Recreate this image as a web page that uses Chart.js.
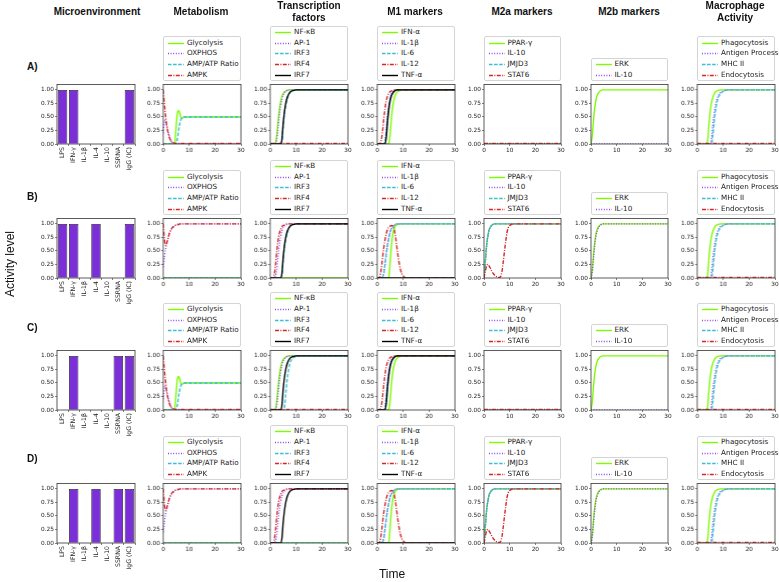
<!DOCTYPE html>
<html>
<head>
<meta charset="utf-8">
<script src="https://cdn.jsdelivr.net/npm/chart.js@4.4.1/dist/chart.umd.min.js"></script>
<style>
  body { margin: 0; width: 779px; height: 582px; background: #fff; position: relative; overflow: hidden; font-family: "DejaVu Sans", sans-serif; }
  canvas { position: absolute; }
  .title { position: absolute; font: bold 10px "Liberation Sans", Arial, sans-serif; text-align: center; line-height: 12px; color: #111; transform: translateX(-50%); white-space: nowrap; }
  .row { position: absolute; font: bold 10px "Liberation Sans", Arial, sans-serif; color: #111; }
  .axis { position: absolute; font: 12px "Liberation Sans", Arial, sans-serif; color: #111; white-space: nowrap; }
  .lg { position: absolute; background: #fff; border: 0.8px solid #d4d4d4; border-radius: 2px; box-sizing: border-box; padding-top: 0.3px; }
  .lg div { height: 10.7px; line-height: 10.7px; font-size: 7.2px; white-space: nowrap; position: relative; padding-left: 23px; color: #222; }
  .lg svg { position: absolute; left: 4px; top: 4px; }
</style>
</head>
<body>
<script>
// time axis (minutes) sampled along the curves
const T = [0, 0.5, 1, 1.5, 2, 2.5, 3, 3.5, 4, 4.5, 5, 5.5, 6, 6.5, 7, 7.5, 8, 9, 10, 12, 15, 20, 25, 30];

const stimuli = ['LPS', 'IFN-γ', 'IL-1β', 'IL-4', 'IL-10', 'SSRNA', 'IgG (IC)'];
const stimA = [1, 1, 0, 0, 0, 0, 1];
const stimB = [1, 1, 0, 1, 0, 0, 1];
const stimC = [0, 1, 0, 0, 0, 1, 1];
const stimD = [0, 1, 0, 1, 0, 1, 1];

const metabolismNames = ['Glycolysis', 'OXPHOS', 'AMP/ATP Ratio', 'AMPK'];
const tfNames = ['NF-κB', 'AP-1', 'IRF3', 'IRF4', 'IRF7'];
const m1Names = ['IFN-α', 'IL-1β', 'IL-6', 'IL-12', 'TNF-α'];
const m2aNames = ['PPAR-γ', 'IL-10', 'JMJD3', 'STAT6'];
const m2bNames = ['ERK', 'IL-10'];
const macNames = ['Phagocytosis', 'Antigen Processing', 'MHC II', 'Endocytosis'];

const flat0 = [0, 0, 0, 0, 0, 0, 0, 0, 0, 0, 0, 0, 0, 0, 0, 0, 0, 0, 0, 0, 0, 0, 0, 0];
const flatLow = [0.01, 0.01, 0.01, 0.01, 0.01, 0.01, 0.01, 0.01, 0.01, 0.01, 0.01, 0.01, 0.01, 0.01, 0.01, 0.01, 0.01, 0.01, 0.01, 0.01, 0.01, 0.01, 0.01, 0.01];

// metabolism
const glycolysisA = [0, 0, 0, 0, 0, 0, 0, 0, 0, 0.04, 0.33, 0.58, 0.62, 0.55, 0.47, 0.48, 0.5, 0.5, 0.5, 0.5, 0.5, 0.5, 0.5, 0.5];
const oxphosA = [0.2, 0.44, 0.4, 0.31, 0.21, 0.13, 0.07, 0.03, 0.01, 0, 0, 0, 0, 0, 0, 0, 0, 0, 0, 0, 0, 0, 0, 0];
const ampAtpA = [0, 0, 0, 0, 0, 0, 0, 0, 0, 0, 0.02, 0.1, 0.27, 0.4, 0.47, 0.49, 0.5, 0.5, 0.5, 0.5, 0.5, 0.5, 0.5, 0.5];
const ampkA = [1, 0.72, 0.48, 0.3, 0.18, 0.1, 0.05, 0.03, 0.02, 0.01, 0.01, 0.01, 0.01, 0.01, 0.01, 0.01, 0.01, 0.01, 0.01, 0.01, 0.01, 0.01, 0.01, 0.01];
const oxphosB = [0.2, 0.4, 0.55, 0.67, 0.76, 0.84, 0.89, 0.93, 0.95, 0.97, 0.98, 0.99, 0.99, 1, 1, 1, 1, 1, 1, 1, 1, 1, 1, 1];
const ampkB = [1, 0.7, 0.6, 0.67, 0.76, 0.84, 0.89, 0.93, 0.95, 0.97, 0.98, 0.99, 0.99, 1, 1, 1, 1, 1, 1, 1, 1, 1, 1, 1];

// transcription factors
const nfkbA = [0, 0, 0, 0, 0.02, 0.15, 0.4, 0.62, 0.78, 0.88, 0.93, 0.96, 0.98, 0.99, 1, 1, 1, 1, 1, 1, 1, 1, 1, 1];
const ap1A = [0, 0, 0, 0, 0.01, 0.08, 0.28, 0.52, 0.7, 0.83, 0.91, 0.95, 0.97, 0.99, 1, 1, 1, 1, 1, 1, 1, 1, 1, 1];
const irf3A = [0, 0, 0, 0, 0, 0, 0, 0, 0, 0.05, 0.32, 0.56, 0.72, 0.83, 0.9, 0.94, 0.97, 0.99, 1, 1, 1, 1, 1, 1];
const irf7A = [0, 0, 0, 0, 0, 0, 0, 0, 0, 0.08, 0.38, 0.6, 0.75, 0.85, 0.91, 0.95, 0.97, 0.99, 1, 1, 1, 1, 1, 1];
const irf3C = [0, 0, 0, 0, 0, 0, 0, 0, 0, 0, 0, 0.05, 0.3, 0.55, 0.72, 0.84, 0.91, 0.97, 0.99, 1, 1, 1, 1, 1];
const ap1B = [0, 0, 0, 0, 0.03, 0.15, 0.38, 0.6, 0.76, 0.87, 0.93, 0.96, 0.98, 0.99, 1, 1, 1, 1, 1, 1, 1, 1, 1, 1];
const irf4B = [0, 0, 0, 0.05, 0.22, 0.48, 0.68, 0.82, 0.9, 0.95, 0.97, 0.98, 0.99, 1, 1, 1, 1, 1, 1, 1, 1, 1, 1, 1];

// M1 markers
const ifnaA = [0, 0, 0, 0, 0, 0, 0, 0, 0, 0.01, 0.18, 0.48, 0.7, 0.83, 0.91, 0.95, 0.97, 0.99, 1, 1, 1, 1, 1, 1];
const il1bA = [0, 0, 0, 0, 0, 0, 0.05, 0.28, 0.55, 0.74, 0.86, 0.93, 0.96, 0.98, 0.99, 1, 1, 1, 1, 1, 1, 1, 1, 1];
const il6A = [0, 0, 0, 0, 0, 0, 0.03, 0.22, 0.5, 0.7, 0.84, 0.91, 0.95, 0.98, 0.99, 1, 1, 1, 1, 1, 1, 1, 1, 1];
const il12A = [0, 0, 0.01, 0.06, 0.22, 0.45, 0.65, 0.8, 0.89, 0.94, 0.97, 0.98, 0.99, 1, 1, 1, 1, 1, 1, 1, 1, 1, 1, 1];
const tnfA = [0, 0, 0, 0, 0, 0, 0, 0.12, 0.42, 0.65, 0.8, 0.89, 0.94, 0.97, 0.99, 1, 1, 1, 1, 1, 1, 1, 1, 1];
const ifnaB = [0, 0, 0, 0, 0, 0, 0, 0, 0, 0.02, 0.3, 0.6, 0.8, 0.9, 0.96, 0.98, 0.99, 1, 1, 1, 1, 1, 1, 1];
const il6B = [0, 0, 0, 0, 0.01, 0.08, 0.25, 0.45, 0.62, 0.75, 0.85, 0.91, 0.95, 0.97, 0.99, 1, 1, 1, 1, 1, 1, 1, 1, 1];
const il12B = [0, 0, 0.02, 0.15, 0.35, 0.55, 0.7, 0.82, 0.9, 0.94, 0.96, 0.97, 0.96, 0.9, 0.78, 0.6, 0.42, 0.15, 0.04, 0, 0, 0, 0, 0];

// M2a markers
const ppargB = [0, 0.3, 0.6, 0.78, 0.89, 0.94, 0.97, 0.99, 1, 1, 1, 1, 1, 1, 1, 1, 1, 1, 1, 1, 1, 1, 1, 1];
const il10aB = [0, 0.28, 0.58, 0.77, 0.88, 0.94, 0.97, 0.99, 1, 1, 1, 1, 1, 1, 1, 1, 1, 1, 1, 1, 1, 1, 1, 1];
const stat6B = [0, 0.12, 0.22, 0.25, 0.22, 0.18, 0.13, 0.09, 0.06, 0.04, 0.02, 0.01, 0.01, 0.03, 0.12, 0.3, 0.5, 0.85, 0.97, 1, 1, 1, 1, 1];

// M2b markers
const erkA = [0, 0.15, 0.45, 0.68, 0.83, 0.91, 0.95, 0.98, 0.99, 1, 1, 1, 1, 1, 1, 1, 1, 1, 1, 1, 1, 1, 1, 1];
const il10bB = [0, 0.1, 0.37, 0.62, 0.79, 0.88, 0.94, 0.97, 0.99, 1, 1, 1, 1, 1, 1, 1, 1, 1, 1, 1, 1, 1, 1, 1];

// macrophage activity
const phagoA = [0, 0, 0, 0, 0, 0, 0, 0, 0.05, 0.35, 0.6, 0.76, 0.86, 0.92, 0.96, 0.98, 0.99, 1, 1, 1, 1, 1, 1, 1];
const antigenA = [0, 0, 0, 0, 0, 0, 0, 0, 0, 0, 0, 0.1, 0.35, 0.55, 0.7, 0.81, 0.88, 0.95, 0.98, 1, 1, 1, 1, 1];
const mhcA = [0, 0, 0, 0, 0, 0, 0, 0, 0, 0, 0, 0, 0.15, 0.4, 0.6, 0.74, 0.84, 0.93, 0.97, 1, 1, 1, 1, 1];

const yTicks = [0, 0.25, 0.5, 0.75, 1];

// ---- layout ----
const COLORS = ['#7cfc00', '#9448f0', '#38bfd8', '#d62728', '#000000'];
const DASH = [[], [1, 1.6], [3.5, 1.6], [4, 1.4, 1, 1.4], []];
const BAR_COLOR = '#7b2fd6';
const colLeft = [57, 163, 270, 377, 483.5, 590.5, 697];
const rowTop = [83.5, 217.5, 350, 483];
const PW = 77.5, PH = 60, AX_W = 24, PAD_T = 4, PAD_R = 6;

const tickFont = { size: 5.8, family: 'DejaVu Sans' };
const gridOpts = { display: true, drawOnChartArea: false, drawTicks: true, tickLength: 2, color: '#333', lineWidth: 0.6 };

const frame = {
  id: 'frame',
  afterDatasetsDraw(chart) {
    const a = chart.chartArea, c = chart.ctx;
    c.save();
    c.strokeStyle = '#333';
    c.lineWidth = 0.8;
    c.strokeRect(a.left, a.top, a.right - a.left, a.bottom - a.top);
    c.restore();
  }
};

function yScale() {
  return {
    min: 0, max: 1.1,
    afterBuildTicks: s => { s.ticks = yTicks.map(v => ({ value: v })); },
    afterFit: s => { s.width = AX_W; },
    ticks: { font: tickFont, color: '#222', padding: 1, callback: v => v.toFixed(2) },
    grid: gridOpts, border: { display: false }
  };
}

function addCanvas(left, top, w, h) {
  const cv = document.createElement('canvas');
  cv.width = w; cv.height = h;
  cv.style.left = left + 'px'; cv.style.top = top + 'px';
  cv.style.width = w + 'px'; cv.style.height = h + 'px';
  document.body.appendChild(cv);
  return cv;
}

function barChart(row, values) {
  const xh = 40;
  const cv = addCanvas(colLeft[0] - AX_W, rowTop[row] - PAD_T, AX_W + 78 + PAD_R, PAD_T + PH + xh);
  new Chart(cv, {
    type: 'bar',
    data: { labels: stimuli, datasets: [{ data: values, backgroundColor: BAR_COLOR, borderColor: '#222', borderWidth: 0.8, barPercentage: 0.85, categoryPercentage: 1 }] },
    options: {
      responsive: false, animation: false, devicePixelRatio: 1,
      layout: { padding: { left: 0, top: PAD_T, right: PAD_R, bottom: 0 } },
      plugins: { legend: { display: false }, tooltip: { enabled: false } },
      scales: {
        x: {
          afterFit: s => { s.height = xh; },
          ticks: { font: { size: 6.2, family: 'DejaVu Sans' }, color: '#222', padding: 1, minRotation: 90, maxRotation: 90, autoSkip: false },
          grid: gridOpts, border: { display: false }
        },
        y: yScale()
      }
    },
    plugins: [frame]
  });
}

function legendBox(left, top, names) {
  const h = names.length * 10.7 + 1.6;
  const d = document.createElement('div');
  d.className = 'lg';
  d.style.left = left + 'px';
  d.style.top = (top - 2.8 - h) + 'px';
  d.style.width = PW + 'px';
  d.style.height = h + 'px';
  names.forEach((n, i) => {
    const r = document.createElement('div');
    const dash = DASH[i].length ? ` stroke-dasharray="${DASH[i].join(' ')}"` : '';
    r.innerHTML = `<svg width="16" height="3"><line x1="0" y1="1.5" x2="16" y2="1.5" stroke="${COLORS[i]}" stroke-width="1.4"${dash}/></svg>` + n;
    d.appendChild(r);
  });
  document.body.appendChild(d);
}

function lineChart(col, row, names, series) {
  const xh = 12;
  const left = colLeft[col], top = rowTop[row];
  const cv = addCanvas(left - AX_W, top - PAD_T, AX_W + PW + PAD_R, PAD_T + PH + xh);
  new Chart(cv, {
    type: 'line',
    data: {
      datasets: series.map((ys, i) => ({
        label: names[i],
        data: T.map((t, k) => ({ x: t, y: ys[k] })),
        borderColor: COLORS[i], borderDash: DASH[i], borderWidth: 1.4,
        pointRadius: 0, cubicInterpolationMode: 'monotone', fill: false, order: -i
      }))
    },
    options: {
      responsive: false, animation: false, devicePixelRatio: 1,
      layout: { padding: { left: 0, top: PAD_T, right: PAD_R, bottom: 0 } },
      plugins: { legend: { display: false }, tooltip: { enabled: false } },
      scales: {
        x: {
          type: 'linear', min: 0, max: 30,
          afterFit: s => { s.height = xh; },
          ticks: { stepSize: 10, font: tickFont, color: '#222', padding: 1, maxRotation: 0 },
          grid: gridOpts, border: { display: false }
        },
        y: yScale()
      }
    },
    plugins: [frame]
  });
  legendBox(left, top, names);
}

// row A
barChart(0, stimA);
lineChart(1, 0, metabolismNames, [glycolysisA, oxphosA, ampAtpA, ampkA]);
lineChart(2, 0, tfNames, [nfkbA, ap1A, irf3A, flatLow, irf7A]);
lineChart(3, 0, m1Names, [ifnaA, il1bA, il6A, il12A, tnfA]);
lineChart(4, 0, m2aNames, [flat0, flat0, flat0, flatLow]);
lineChart(5, 0, m2bNames, [erkA, flat0]);
lineChart(6, 0, macNames, [phagoA, antigenA, mhcA, flatLow]);
// row B
barChart(1, stimB);
lineChart(1, 1, metabolismNames, [flat0, oxphosB, flat0, ampkB]);
lineChart(2, 1, tfNames, [flat0, ap1B, irf3A, irf4B, irf7A]);
lineChart(3, 1, m1Names, [ifnaB, il6B, il6B, il12B, flat0]);
lineChart(4, 1, m2aNames, [ppargB, il10aB, ppargB, stat6B]);
lineChart(5, 1, m2bNames, [erkA, il10bB]);
lineChart(6, 1, macNames, [phagoA, antigenA, mhcA, flatLow]);
// row C
barChart(2, stimC);
lineChart(1, 2, metabolismNames, [glycolysisA, oxphosA, ampAtpA, ampkA]);
lineChart(2, 2, tfNames, [nfkbA, ap1A, irf3C, flatLow, irf7A]);
lineChart(3, 2, m1Names, [ifnaA, il1bA, il6A, il12A, tnfA]);
lineChart(4, 2, m2aNames, [flat0, flat0, flat0, flatLow]);
lineChart(5, 2, m2bNames, [erkA, flat0]);
lineChart(6, 2, macNames, [phagoA, antigenA, mhcA, flatLow]);
// row D
barChart(3, stimD);
lineChart(1, 3, metabolismNames, [flat0, oxphosB, flat0, ampkB]);
lineChart(2, 3, tfNames, [flat0, ap1B, flat0, irf4B, irf7A]);
lineChart(3, 3, m1Names, [ifnaB, il6B, il6B, il12B, flat0]);
lineChart(4, 3, m2aNames, [ppargB, il10aB, ppargB, stat6B]);
lineChart(5, 3, m2bNames, [erkA, il10bB]);
lineChart(6, 3, macNames, [phagoA, antigenA, mhcA, flatLow]);

// titles and labels
[['Microenvironment', 97, 6], ['Metabolism', 201, 6], ['Transcription<br>factors', 309, 0], ['M1 markers', 415, 6],
 ['M2a markers', 522, 6], ['M2b markers', 629, 6], ['Macrophage<br>Activity', 735, 0]].forEach(([t, x, y]) => {
  const d = document.createElement('div');
  d.className = 'title'; d.innerHTML = t; d.style.left = x + 'px'; d.style.top = y + 'px';
  document.body.appendChild(d);
});
[['A)', 61], ['B)', 191], ['C)', 322], ['D)', 453]].forEach(([t, y]) => {
  const d = document.createElement('div');
  d.className = 'row'; d.textContent = t; d.style.left = '27px'; d.style.top = y + 'px';
  document.body.appendChild(d);
});
const yl = document.createElement('div');
yl.className = 'axis'; yl.textContent = 'Activity level';
yl.style.left = '10px'; yl.style.top = '264px';
yl.style.transform = 'translate(-50%, -50%) rotate(-90deg)';
document.body.appendChild(yl);
const xl = document.createElement('div');
xl.className = 'axis'; xl.textContent = 'Time';
xl.style.left = '392px'; xl.style.top = '574px';
xl.style.transform = 'translate(-50%, -50%)';
document.body.appendChild(xl);
</script>
</body>
</html>
